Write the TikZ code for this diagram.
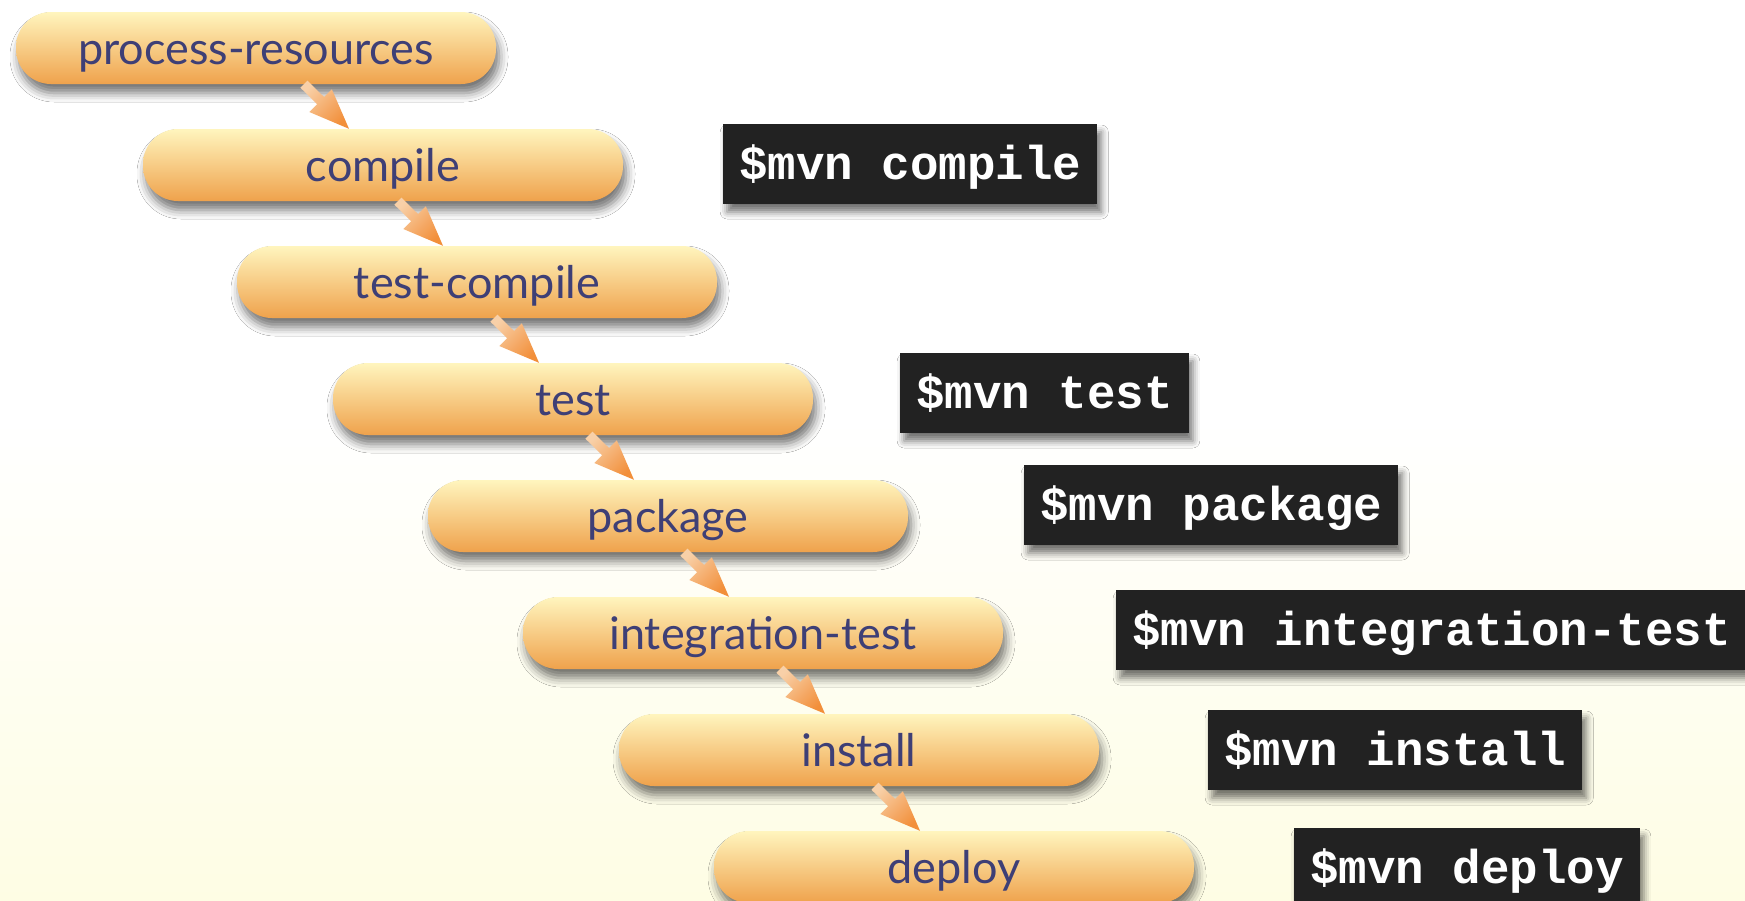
\documentclass[tikz,border=0pt]{standalone}
\usepackage{fontspec}
\newfontfamily\pillfont{Lato}
\newfontfamily\cmdfont{Liberation Mono}
\usetikzlibrary{calc,shadows.blur}

\definecolor{pilltop}{RGB}{255,245,190}
\definecolor{pillbot}{RGB}{239,162,76}
\definecolor{pilltext}{RGB}{62,63,118}
\definecolor{cmdbg}{RGB}{34,34,34}
\definecolor{cream}{RGB}{254,253,228}
\definecolor{arrlight}{RGB}{248,208,168}
\definecolor{arrdark}{RGB}{242,143,58}

\tikzset{
  phase/.style={rounded corners=35pt, minimum width=480pt, minimum height=72pt,
    inner sep=0pt, top color=pilltop, bottom color=pillbot, text=pilltext,
    font=\pillfont\fontsize{45}{50}\selectfont, text height=38pt, text depth=6pt,
    blur shadow={shadow xshift=3pt, shadow yshift=-9pt, shadow blur radius=9pt,
      shadow opacity=55}},
  cmd/.style={anchor=west, fill=cmdbg, text=white, inner xsep=16pt, inner ysep=0pt,
    minimum height=80pt, font=\cmdfont\bfseries\fontsize{47.5}{50}\selectfont,
    text height=34pt, text depth=4pt,
    blur shadow={shadow xshift=4pt, shadow yshift=-8pt, shadow blur radius=7pt,
      shadow opacity=55}},
  % filled arrow outline: shaft, then triangular head ending at the target
  flow/.style={top color=arrlight, bottom color=arrdark, shading angle=45,
    to path={
      ($(\tikztotarget)!40pt!(\tikztostart)$) coordinate (headbase)
      ($(\tikztostart)!5pt!90:(\tikztotarget)$)
      -- ($(headbase)!5pt!-90:(\tikztostart)$)
      -- ($(headbase)!16pt!-90:(\tikztostart)$)
      -- (\tikztotarget)
      -- ($(headbase)!16pt!90:(\tikztostart)$)
      -- ($(headbase)!5pt!90:(\tikztostart)$)
      -- ($(\tikztostart)!5pt!-90:(\tikztotarget)$)
      -- cycle}}
}

\begin{document}
\begin{tikzpicture}[x=1pt, y=-1pt]
  \useasboundingbox (0,0) rectangle (1745,900);
  \fill[white] (0,0) rectangle (1745,900);
  \shade[top color=white, bottom color=cream] (0,420) rectangle (1745,900);

  % lifecycle phases
  \node[phase] (pr)       at (256,48)  {process-resources};
  \node[phase] (compile)  at (383,165) {compile};
  \node[phase] (tcompile) at (477,282) {test-compile};
  \node[phase] (test)     at (573,399) {test};
  \node[phase] (package)  at (668,516) {package};
  \node[phase] (itest)    at (763,633) {integration-test};
  \node[phase] (install)  at (859,750) {install};
  \node[phase] (deploy)   at (954,867) {deploy};

  % commands
  \node[cmd] (ccompile) at (723,164)  {\$mvn compile};
  \node[cmd] (ctest)    at (900,393)  {\$mvn test};
  \node[cmd] (cpackage) at (1024,505) {\$mvn package};
  \node[cmd] (citest)   at (1116,630) {\$mvn integration-test};
  \node[cmd] (cinstall) at (1208,750) {\$mvn install};
  \node[cmd] (cdeploy)  at (1294,868) {\$mvn deploy};

  % arrows between consecutive phases
  \foreach \a/\b in {pr/compile, compile/tcompile, tcompile/test, test/package,
                     package/itest, itest/install, install/deploy}
    \shade[flow] ([xshift=-79pt]\b.north |- \a.south) to ([xshift=-34pt]\b.north);
\end{tikzpicture}
\end{document}
